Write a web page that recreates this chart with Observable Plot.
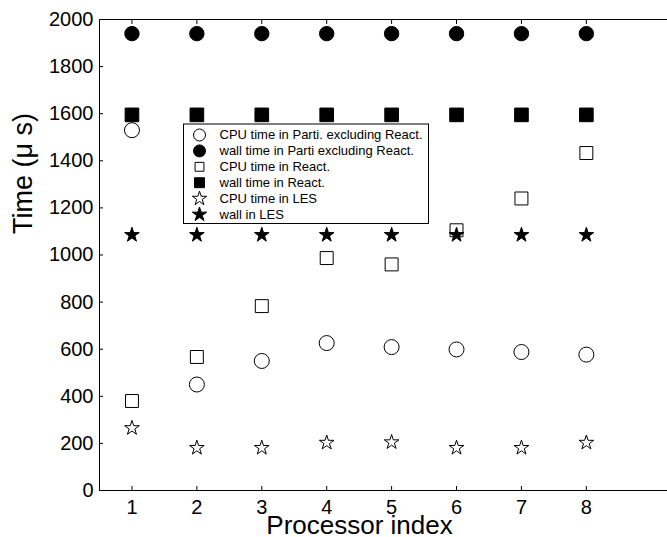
<!DOCTYPE html>
<html><head><meta charset="utf-8">
<script src="https://cdn.jsdelivr.net/npm/d3@7"></script>
<script src="https://cdn.jsdelivr.net/npm/@observablehq/plot@0.6"></script>
<style>
body{margin:0;background:#fff}
svg{font-family:"Liberation Sans",Arial,sans-serif}
</style>
</head><body><div id="chart"></div>
<script>
// ---- data ----
const processors = [1, 2, 3, 4, 5, 6, 7, 8];
const cpuParti  = [1530, 450, 550, 626, 609, 599, 588, 577];
const wallParti = [1940, 1940, 1940, 1940, 1940, 1940, 1940, 1940];
const cpuReact  = [380, 567, 783, 987, 960, 1105, 1240, 1433];
const wallReact = [1595, 1595, 1595, 1595, 1595, 1595, 1595, 1595];
const cpuLES    = [265, 181, 181, 203, 205, 181, 181, 203];
const wallLES   = [1085, 1085, 1085, 1085, 1085, 1085, 1085, 1085];
const seriesNames = [
  "CPU time in Parti. excluding React.",
  "wall time in Parti excluding React.",
  "CPU time in React.",
  "wall time in React.",
  "CPU time in LES",
  "wall in LES"
];
const seriesValues = [cpuParti, wallParti, cpuReact, wallReact, cpuLES, wallLES];
const yTicks = [0, 200, 400, 600, 800, 1000, 1200, 1400, 1600, 1800, 2000];
const xLabel = "Processor index";
const yLabel = "Time (\u03bc s)";

// ---- styles ----
const seriesSymbols = ["circle", "circle", "square", "square", "star", "star"];
const seriesFilled = [false, true, false, true, false, true];
const seriesR = [7.5, 7.2, 7.3, 7.7, 4.6, 4.6];
const legendR = [6, 6, 5, 5.6, 4.5, 4.5];
const xDomain = [0.5, 9.25];
const yDomain = [0, 2000];

const series = seriesNames.map((name, i) => ({
  name, symbol: seriesSymbols[i], filled: seriesFilled[i], r: seriesR[i], lr: legendR[i],
  rows: processors.map((p, j) => ({p, v: seriesValues[i][j]}))
}));

const marks = [
  Plot.ruleY([yDomain[0]], {stroke: "black"}),
  Plot.ruleY([yDomain[1]], {stroke: "black"}),
  Plot.ruleX([xDomain[0]], {stroke: "black"}),
  Plot.axisY({ticks: yTicks, tickSize: -4, tickPadding: 10, fontSize: 20, tickFormat: d => String(d), label: null, stroke: "black", color: "black"}),
  Plot.axisX({ticks: processors, tickSize: -4, tickPadding: 13, fontSize: 20, tickFormat: d => String(d), label: null, stroke: "black", color: "black"}),
  Plot.axisX({anchor: "top", ticks: processors, tickSize: -4, tickFormat: () => "", label: null, stroke: "black"}),
];
series.forEach(s => {
  marks.push(Plot.dot(s.rows, {
    x: "p", y: "v", symbol: s.symbol, r: s.r,
    fill: s.filled ? "black" : "none", stroke: "black", strokeWidth: 1
  }));
});
// legend box
marks.push(Plot.frame({fill: "white", stroke: "black", strokeWidth: 1,
  insetLeft: 84, insetTop: 104.5, insetRight: 239, insetBottom: 267}));
series.forEach((s, i) => {
  const dy = 115.5 + 15.9 * i;
  marks.push(Plot.dot([s], {frameAnchor: "top-left", dx: 100, dy,
    symbol: s.symbol, r: s.lr,
    fill: s.filled ? "black" : "none", stroke: "black", strokeWidth: 1}));
  marks.push(Plot.text([s.name], {frameAnchor: "top-left", dx: 120, dy,
    text: d => d, textAnchor: "start", lineAnchor: "middle", fontSize: 13, fill: "black"}));
});
// axis labels
marks.push(Plot.text([xLabel], {frameAnchor: "bottom", dx: -24, dy: 24.8,
  text: d => d, lineAnchor: "top", fontSize: 26, fill: "black"}));
marks.push(Plot.text([yLabel], {frameAnchor: "left", dx: -87, dy: -21,
  text: d => d, rotate: -90, lineAnchor: "top", fontSize: 27, fill: "black"}));

const chart = Plot.plot({
  width: 667, height: 537,
  marginLeft: 99, marginRight: 0, marginTop: 19, marginBottom: 47,
  x: {domain: xDomain},
  y: {domain: yDomain},
  style: {background: "white", color: "black", fontFamily: "'Liberation Sans', Arial, sans-serif"},
  marks
});
document.getElementById("chart").appendChild(chart);
</script>
</body></html>
